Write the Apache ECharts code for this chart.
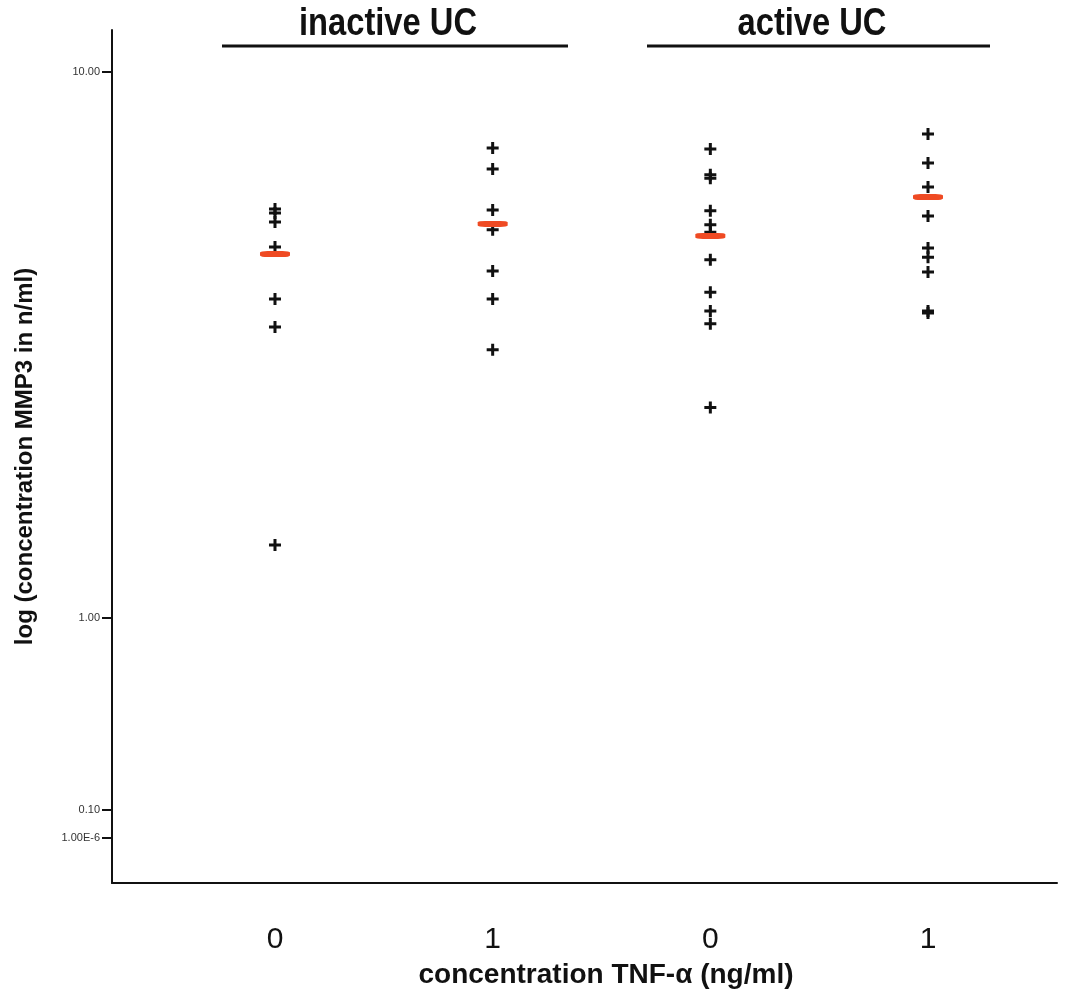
<!DOCTYPE html>
<html lang="en">
<head>
    <meta charset="UTF-8">
    <title>MMP3 vs TNF-alpha</title>
    <script src="https://cdn.jsdelivr.net/npm/echarts@6/dist/echarts.min.js"></script>
    <style>
        html, body { margin: 0; padding: 0; background: #fff; }
        #main { width: 1070px; height: 998px; }
    </style>
</head>
<body>
<div id="main"></div>
<script type="text/javascript">
    // groups along the x axis
    var groupLabels = ['0', '1', '0', '1'];
    var groupTitles = ['inactive UC', 'active UC'];

    // MMP3 concentration (n/ml), one array per group
    var inactive0 = [5.61, 5.52, 5.31, 4.78, 3.84, 3.41, 1.36];
    var inactive1 = [7.26, 6.64, 5.59, 5.14, 4.32, 3.84, 3.10];
    var active0 = [7.23, 6.48, 6.39, 5.57, 5.25, 5.09, 4.53, 3.95, 3.65, 3.46, 2.43];
    var active1 = [7.70, 6.81, 6.16, 5.45, 4.76, 4.58, 4.30, 3.65, 3.62];
    var medians = [4.64, 5.27, 5.01, 5.90];

    // tick marks on the (broken) log axis
    var yTickValues = [10, 1, 0.1, 0.000001];
    var yTickLabels = ['10.00', '1.00', '0.10', '1.00E-6'];

    // the printed axis is a log scale above 1 and squeezed below it
    function axisPos(v) {
        var l = Math.log10(v);
        if (l >= 0) return l;
        if (l >= -1) return l * 0.3516;
        return -0.3516 + (l + 1) / 5 * 0.0514;
    }

    var groups = [inactive0, inactive1, active0, active1];
    var pointData = [];
    groups.forEach(function (arr, i) {
        arr.forEach(function (v) {
            pointData.push([i + 1, axisPos(v), v]);
        });
    });
    var medianData = medians.map(function (v, i) { return [i + 1, axisPos(v), v]; });
    var yTickPos = yTickValues.map(axisPos);

    var plus = 'path://M4.5,0h3v4.5h4.5v3h-4.5v4.5h-3v-4.5h-4.5v-3h4.5z';
    var headFont = 'bold 38px "Liberation Sans", Arial, sans-serif';

    var myChart = echarts.init(document.getElementById('main'));
    var option = {
        backgroundColor: '#fff',
        animation: false,
        grid: { left: 112, right: 13, top: 30, bottom: 115 },
        xAxis: {
            type: 'value',
            min: 0.2512,
            max: 4.5926,
            splitLine: { show: false },
            axisLine: { show: true, onZero: false, lineStyle: { color: '#111', width: 2 } },
            axisTick: { show: false },
            axisLabel: {
                customValues: [1, 2, 3, 4],
                margin: 42,
                fontSize: 30,
                color: '#111',
                fontFamily: 'Liberation Sans',
                formatter: function (val) {
                    return groupLabels[Math.round(val) - 1];
                }
            }
        },
        yAxis: {
            type: 'value',
            min: -0.4853,
            max: 1.0769,
            name: 'log (concentration MMP3 in n/ml)',
            nameLocation: 'middle',
            nameGap: 75,
            nameTextStyle: { fontSize: 24, fontWeight: 'bold', color: '#111', fontFamily: 'Liberation Sans' },
            splitLine: { show: false },
            axisLine: { show: true, onZero: false, lineStyle: { color: '#111', width: 2 } },
            axisTick: {
                show: true,
                customValues: yTickPos,
                length: 10,
                lineStyle: { color: '#111', width: 2 }
            },
            axisLabel: {
                customValues: yTickPos,
                margin: 12,
                fontSize: 11,
                color: '#333',
                fontFamily: 'Liberation Sans',
                formatter: function (val) {
                    var best = 0;
                    for (var i = 1; i < yTickPos.length; i++) {
                        if (Math.abs(yTickPos[i] - val) < Math.abs(yTickPos[best] - val)) best = i;
                    }
                    return yTickLabels[best];
                }
            }
        },
        graphic: [
            { type: 'line', shape: { x1: 222, y1: 46, x2: 568, y2: 46 }, style: { stroke: '#111', lineWidth: 3 } },
            { type: 'line', shape: { x1: 647, y1: 46, x2: 990, y2: 46 }, style: { stroke: '#111', lineWidth: 3 } },
            {
                type: 'text', x: 388, y: 25, scaleX: 0.86,
                style: { text: groupTitles[0], align: 'center', verticalAlign: 'middle', font: headFont, fill: '#111' }
            },
            {
                type: 'text', x: 812, y: 25, scaleX: 0.86,
                style: { text: groupTitles[1], align: 'center', verticalAlign: 'middle', font: headFont, fill: '#111' }
            },
            {
                type: 'text', x: 606, y: 975,
                style: {
                    text: 'concentration TNF-\u03b1 (ng/ml)', align: 'center', verticalAlign: 'middle',
                    font: 'bold 28px "Liberation Sans", Arial, sans-serif', fill: '#111'
                }
            }
        ],
        series: [
            {
                name: 'samples',
                type: 'scatter',
                data: pointData,
                symbol: plus,
                symbolSize: 12,
                itemStyle: { color: '#111', opacity: 1 },
                z: 3
            },
            {
                name: 'median',
                type: 'scatter',
                data: medianData,
                symbol: 'roundRect',
                symbolSize: [30, 6],
                itemStyle: { color: '#ef4a23', opacity: 1 },
                z: 4
            }
        ]
    };
    myChart.setOption(option);
</script>
</body>
</html>
